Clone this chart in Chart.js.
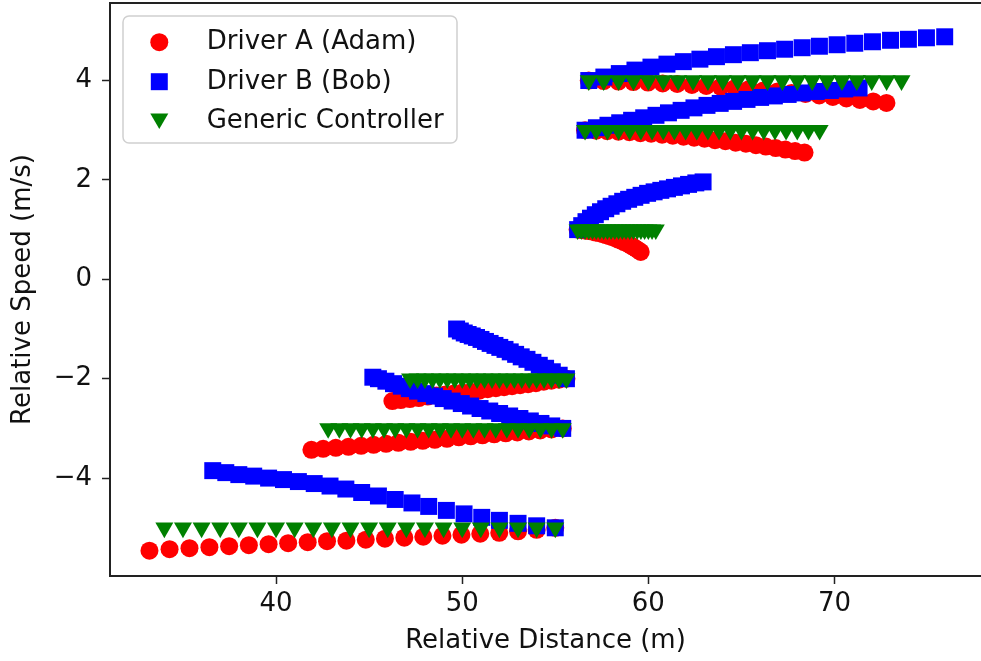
<!DOCTYPE html>
<html>
<head>
<meta charset="utf-8">
<title>Relative speed vs distance</title>
<script src="https://cdn.jsdelivr.net/npm/chart.js@4/dist/chart.umd.min.js"></script>
<style>
  html, body { margin: 0; padding: 0; background: #fff; }
  #wrap { width: 981px; height: 661px; }
</style>
</head>
<body>
<div id="wrap"><canvas id="speedChart" width="981" height="661"></canvas></div>
<script>
// Six runs per driver, one row per run (distance in m, relative speed in m/s)
const adamDistance = [
  [55.0, 54.0, 53.0, 51.99, 50.97, 49.96, 48.94, 47.91, 46.89, 45.85, 44.82, 43.78, 42.74, 41.70, 40.65, 39.60, 38.54, 37.48, 36.42, 35.35, 34.28, 33.2],
  [55.4, 54.80, 54.19, 53.58, 52.96, 52.34, 51.72, 51.09, 50.46, 49.82, 49.18, 48.53, 47.88, 47.23, 46.57, 45.91, 45.24, 44.57, 43.89, 43.21, 42.53, 41.9],
  [55.6, 55.20, 54.79, 54.38, 53.96, 53.54, 53.11, 52.68, 52.25, 51.81, 51.37, 50.92, 50.47, 50.01, 49.55, 49.09, 48.62, 48.15, 47.67, 47.19, 46.70, 46.25],
  [56.2, 56.4, 56.59, 56.79, 56.98, 57.17, 57.35, 57.54, 57.71, 57.89, 58.06, 58.22, 58.38, 58.54, 58.69, 58.84, 58.98, 59.11, 59.24, 59.36, 59.48, 59.59],
  [56.6, 57.2, 57.79, 58.39, 58.98, 59.57, 60.15, 60.74, 61.31, 61.89, 62.46, 63.02, 63.58, 64.14, 64.69, 65.24, 65.78, 66.31, 66.84, 67.36, 67.88, 68.39],
  [56.8, 57.6, 58.39, 59.19, 59.98, 60.77, 61.55, 62.34, 63.11, 63.89, 64.66, 65.42, 66.18, 66.94, 67.69, 68.44, 69.18, 69.91, 70.64, 71.36, 72.08, 72.79],
];
const adamSpeed = [
  [-5.00, -5.04, -5.07, -5.10, -5.12, -5.14, -5.16, -5.18, -5.20, -5.22, -5.24, -5.26, -5.27, -5.29, -5.31, -5.33, -5.35, -5.37, -5.39, -5.41, -5.43, -5.46],
  [-3.00, -3.02, -3.04, -3.06, -3.08, -3.10, -3.12, -3.14, -3.16, -3.18, -3.21, -3.23, -3.25, -3.27, -3.29, -3.31, -3.33, -3.35, -3.37, -3.39, -3.41, -3.43],
  [-2.00, -2.02, -2.04, -2.06, -2.09, -2.11, -2.13, -2.15, -2.17, -2.19, -2.21, -2.24, -2.26, -2.28, -2.30, -2.32, -2.34, -2.36, -2.39, -2.41, -2.43, -2.45],
  [1.00, 0.99, 0.98, 0.97, 0.96, 0.94, 0.93, 0.91, 0.89, 0.87, 0.85, 0.83, 0.80, 0.78, 0.75, 0.73, 0.70, 0.67, 0.64, 0.61, 0.58, 0.55],
  [3.00, 2.99, 2.98, 2.97, 2.96, 2.94, 2.93, 2.91, 2.89, 2.87, 2.85, 2.83, 2.80, 2.78, 2.75, 2.73, 2.70, 2.67, 2.64, 2.61, 2.58, 2.55],
  [4.00, 3.99, 3.98, 3.97, 3.96, 3.94, 3.93, 3.91, 3.89, 3.87, 3.85, 3.83, 3.80, 3.78, 3.75, 3.73, 3.70, 3.67, 3.64, 3.61, 3.58, 3.55],
];

const bobDistance = [
  [55.0, 54.0, 53.0, 52.0, 51.05, 50.1, 49.15, 48.2, 47.3, 46.4, 45.5, 44.6, 43.75, 42.9, 42.05, 41.2, 40.4, 39.6, 38.8, 38.0, 37.3, 36.6],
  [55.4, 54.81, 54.23, 53.66, 53.10, 52.55, 52.01, 51.48, 50.96, 50.45, 49.95, 49.46, 48.98, 48.51, 48.05, 47.60, 47.16, 46.73, 46.31, 45.90, 45.50, 45.2],
  [55.6, 55.21, 54.84, 54.48, 54.14, 53.80, 53.48, 53.17, 52.87, 52.58, 52.30, 52.02, 51.76, 51.50, 51.25, 51.01, 50.77, 50.54, 50.32, 50.11, 49.90, 49.70],
  [56.2, 56.42, 56.65, 56.89, 57.15, 57.43, 57.71, 58.00, 58.31, 58.62, 58.94, 59.27, 59.61, 59.96, 60.31, 60.67, 61.03, 61.40, 61.78, 62.16, 62.55, 62.94],
  [56.6, 57.21, 57.83, 58.46, 59.10, 59.75, 60.41, 61.08, 61.76, 62.45, 63.15, 63.86, 64.58, 65.30, 66.03, 66.77, 67.51, 68.26, 69.02, 69.78, 70.55, 71.32],
  [56.8, 57.61, 58.44, 59.28, 60.14, 61.0, 61.88, 62.77, 63.66, 64.57, 65.48, 66.4, 67.32, 68.26, 69.19, 70.14, 71.09, 72.04, 73.01, 73.97, 74.94, 75.92],
];
const bobSpeed = [
  [-5.00, -4.96, -4.91, -4.85, -4.79, -4.72, -4.65, -4.57, -4.50, -4.43, -4.36, -4.29, -4.22, -4.16, -4.11, -4.07, -4.03, -4.00, -3.96, -3.93, -3.89, -3.85],
  [-3.00, -2.95, -2.90, -2.85, -2.80, -2.75, -2.70, -2.65, -2.60, -2.55, -2.50, -2.45, -2.40, -2.35, -2.30, -2.25, -2.20, -2.15, -2.10, -2.05, -2.00, -1.97],
  [-2.00, -1.93, -1.86, -1.79, -1.73, -1.67, -1.61, -1.56, -1.51, -1.46, -1.41, -1.37, -1.33, -1.29, -1.25, -1.21, -1.17, -1.14, -1.11, -1.08, -1.04, -1.00],
  [1.00, 1.08, 1.16, 1.23, 1.30, 1.36, 1.42, 1.47, 1.52, 1.57, 1.61, 1.65, 1.69, 1.73, 1.76, 1.79, 1.82, 1.85, 1.88, 1.91, 1.94, 1.96],
  [3.00, 3.05, 3.10, 3.15, 3.20, 3.25, 3.30, 3.35, 3.40, 3.45, 3.50, 3.54, 3.58, 3.62, 3.66, 3.69, 3.72, 3.75, 3.78, 3.80, 3.83, 3.85],
  [4.00, 4.07, 4.14, 4.21, 4.27, 4.33, 4.38, 4.43, 4.48, 4.52, 4.56, 4.60, 4.63, 4.66, 4.69, 4.72, 4.75, 4.78, 4.81, 4.83, 4.86, 4.88],
];

const controllerDistance = [
  [55, 54, 53, 52, 51, 50, 49, 48, 47, 46, 45, 44, 43, 42, 41, 40, 39, 38, 37, 36, 35, 34],
  [55.4, 54.8, 54.2, 53.6, 53.0, 52.4, 51.8, 51.2, 50.6, 50.0, 49.4, 48.8, 48.2, 47.6, 47.0, 46.4, 45.8, 45.2, 44.6, 44.0, 43.4, 42.8],
  [55.6, 55.2, 54.8, 54.4, 54.0, 53.6, 53.2, 52.8, 52.4, 52.0, 51.6, 51.2, 50.8, 50.4, 50.0, 49.6, 49.2, 48.8, 48.4, 48.0, 47.6, 47.2],
  [56.2, 56.4, 56.6, 56.8, 57.0, 57.2, 57.4, 57.6, 57.8, 58.0, 58.2, 58.4, 58.6, 58.8, 59.0, 59.2, 59.4, 59.6, 59.8, 60.0, 60.2, 60.4],
  [56.6, 57.2, 57.8, 58.4, 59.0, 59.6, 60.2, 60.8, 61.4, 62.0, 62.6, 63.2, 63.8, 64.4, 65.0, 65.6, 66.2, 66.8, 67.4, 68.0, 68.6, 69.2],
  [56.8, 57.6, 58.4, 59.2, 60.0, 60.8, 61.6, 62.4, 63.2, 64.0, 64.8, 65.6, 66.4, 67.2, 68.0, 68.8, 69.6, 70.4, 71.2, 72.0, 72.8, 73.6],
];
const controllerSpeed = [
  [-5, -5, -5, -5, -5, -5, -5, -5, -5, -5, -5, -5, -5, -5, -5, -5, -5, -5, -5, -5, -5, -5],
  [-3, -3, -3, -3, -3, -3, -3, -3, -3, -3, -3, -3, -3, -3, -3, -3, -3, -3, -3, -3, -3, -3],
  [-2, -2, -2, -2, -2, -2, -2, -2, -2, -2, -2, -2, -2, -2, -2, -2, -2, -2, -2, -2, -2, -2],
  [1, 1, 1, 1, 1, 1, 1, 1, 1, 1, 1, 1, 1, 1, 1, 1, 1, 1, 1, 1, 1, 1],
  [3, 3, 3, 3, 3, 3, 3, 3, 3, 3, 3, 3, 3, 3, 3, 3, 3, 3, 3, 3, 3, 3],
  [4, 4, 4, 4, 4, 4, 4, 4, 4, 4, 4, 4, 4, 4, 4, 4, 4, 4, 4, 4, 4, 4],
];

const seriesLabels = ['Driver A (Adam)', 'Driver B (Bob)', 'Generic Controller'];
const xTicks = [40, 50, 60, 70];
const yTicks = [-4, -2, 0, 2, 4];

const FONT = '"DejaVu Sans", Verdana, sans-serif';
const TEXT = '#111';

function toPoints(distRuns, speedRuns) {
  const pts = [];
  distRuns.forEach((run, r) => {
    run.forEach((d, i) => pts.push({ x: d, y: speedRuns[r][i] }));
  });
  return pts;
}

// matplotlib-style minus sign on negative ticks
const fmtTick = (v) => (v < 0 ? '\u2212' + Math.abs(v) : String(v));

// keep the plot box fixed: no extra room for overhanging tick labels
function pinScale(s, size) {
  if (s.isHorizontal()) s.height = size; else s.width = size;
  s.paddingTop = 0;
  s.paddingBottom = 0;
  s.paddingLeft = 0;
  s.paddingRight = 0;
}

// Axes spines: left, bottom and top (right one falls off the canvas)
const framePlugin = {
  id: 'frame',
  afterDatasetsDraw(chart) {
    const { ctx, chartArea: a } = chart;
    ctx.save();
    ctx.strokeStyle = '#222';
    ctx.lineWidth = 2;
    ctx.beginPath();
    ctx.moveTo(a.right + 2, a.top);
    ctx.lineTo(a.left, a.top);
    ctx.lineTo(a.left, a.bottom);
    ctx.lineTo(a.right + 2, a.bottom);
    ctx.stroke();
    ctx.restore();
  },
};

// Boxed legend in the upper-left corner of the plot
const legendBoxPlugin = {
  id: 'legendBox',
  afterDraw(chart) {
    const { ctx } = chart;
    const box = { x: 123, y: 16, w: 334, h: 127 };
    ctx.save();
    ctx.beginPath();
    ctx.roundRect(box.x, box.y, box.w, box.h, 6);
    ctx.fillStyle = 'rgba(255,255,255,0.8)';
    ctx.fill();
    ctx.strokeStyle = '#d0d0d0';
    ctx.lineWidth = 1.5;
    ctx.stroke();

    const rows = [42.2, 81.7, 118.6];
    const baselines = [49.3, 89.3, 128.3];
    chart.data.datasets.forEach((ds, i) => {
      ctx.fillStyle = ds.pointBackgroundColor;
      Chart.helpers.drawPoint(ctx, {
        pointStyle: ds.pointStyle,
        rotation: ds.pointRotation || 0,
        radius: ds.pointRadius,
        borderWidth: 0,
      }, 159.3, rows[i]);
      ctx.fillStyle = TEXT;
      ctx.font = '26px ' + FONT;
      ctx.textAlign = 'left';
      ctx.textBaseline = 'alphabetic';
      ctx.fillText(ds.label, 206.7, baselines[i]);
    });
    ctx.restore();
  },
};

const ctx = document.getElementById('speedChart');

new Chart(ctx, {
  type: 'scatter',
  data: {
    datasets: [
      {
        label: seriesLabels[0],
        data: toPoints(adamDistance, adamSpeed),
        pointStyle: 'circle',
        pointRadius: 9,
        pointBackgroundColor: '#ff0000',
        pointBorderWidth: 0,
        order: 3,
      },
      {
        label: seriesLabels[1],
        data: toPoints(bobDistance, bobSpeed),
        pointStyle: 'rect',
        pointRadius: 12,
        pointBackgroundColor: '#0000ff',
        pointBorderWidth: 0,
        order: 2,
      },
      {
        label: seriesLabels[2],
        data: toPoints(controllerDistance, controllerSpeed),
        pointStyle: 'triangle',
        pointRotation: 180,
        pointRadius: 10.4,
        pointBackgroundColor: '#008000',
        pointBorderWidth: 0,
        order: 1,
      },
    ],
  },
  options: {
    responsive: false,
    animation: false,
    devicePixelRatio: 1,
    events: [],
    layout: {
      autoPadding: false,
      padding: { left: 0, top: 3, right: 0, bottom: 0 },
    },
    plugins: {
      legend: { display: false },
      tooltip: { enabled: false },
    },
    scales: {
      x: {
        type: 'linear',
        min: 31.08,
        max: 77.87,
        afterFit: (s) => pinScale(s, 85),
        afterBuildTicks: (s) => { s.ticks = xTicks.map(v => ({ value: v })); },
        border: { display: false },
        grid: {
          drawOnChartArea: false,
          drawTicks: true,
          tickLength: 8,
          tickColor: '#222',
          tickWidth: 1.5,
        },
        ticks: {
          padding: 5,
          color: TEXT,
          maxRotation: 0,
          font: { family: FONT, size: 26, lineHeight: 1.2 },
          callback: fmtTick,
        },
        title: {
          display: true,
          text: 'Relative Distance (m)',
          color: TEXT,
          font: { family: FONT, size: 26, lineHeight: 1.2 },
          padding: { top: 0, bottom: 4 },
        },
      },
      y: {
        type: 'linear',
        min: -5.97,
        max: 5.56,
        afterFit: (s) => pinScale(s, 110),
        afterBuildTicks: (s) => { s.ticks = yTicks.map(v => ({ value: v })); },
        border: { display: false },
        grid: {
          drawOnChartArea: false,
          drawTicks: true,
          tickLength: 8,
          tickColor: '#222',
          tickWidth: 1.5,
        },
        ticks: {
          padding: 10,
          color: TEXT,
          font: { family: FONT, size: 26, lineHeight: 1.2 },
          callback: fmtTick,
        },
        title: {
          display: true,
          text: 'Relative Speed (m/s)',
          color: TEXT,
          font: { family: FONT, size: 26, lineHeight: 1.2 },
          padding: { top: 8, bottom: 0 },
        },
      },
    },
  },
  plugins: [framePlugin, legendBoxPlugin],
});
</script>
</body>
</html>
